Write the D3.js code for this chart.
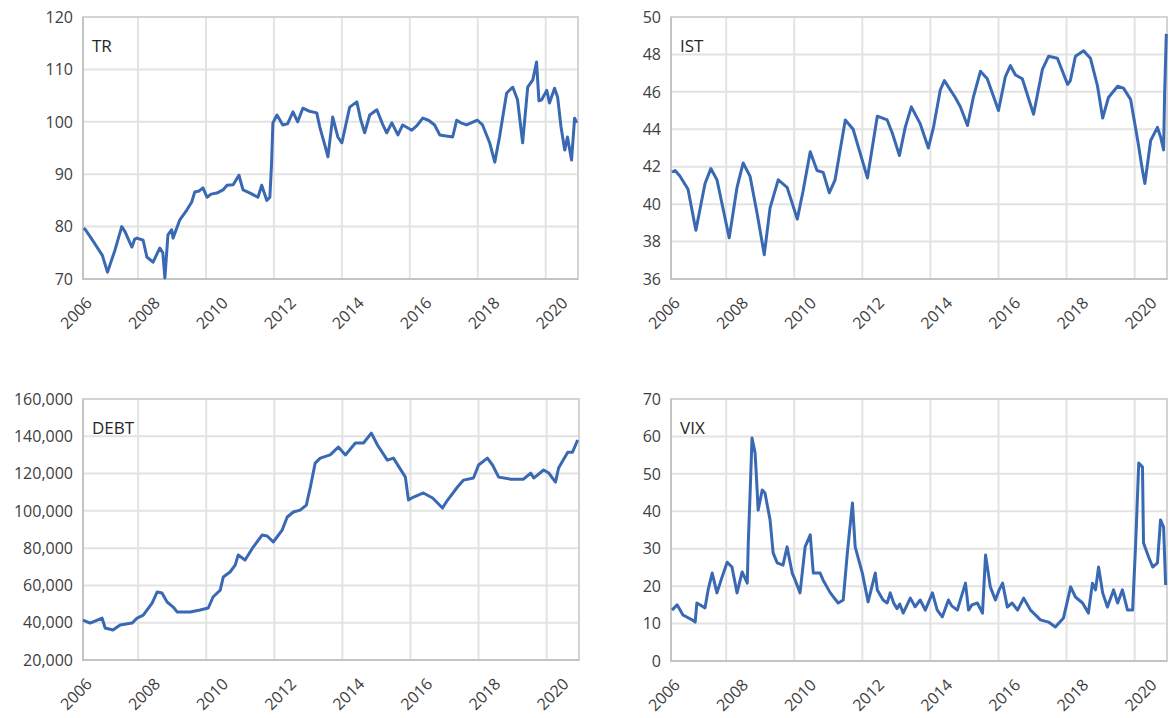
<!DOCTYPE html>
<html>
<head>
<meta charset="utf-8">
<script src="https://cdn.jsdelivr.net/npm/d3@7"></script>
<style>
  html, body { margin: 0; padding: 0; background: #ffffff; }
  svg { display: block; }
  text { font-family: "Open Sans", "Noto Sans", sans-serif; }
</style>
</head>
<body>
<svg id="chart" width="1172" height="718"></svg>
<script>
// Year ticks shared by all four panels
const yearTicks = [2006, 2008, 2010, 2012, 2014, 2016, 2018, 2020];

// TR series (decimal year, value)
const trDates = [2006.40, 2006.44, 2006.60, 2006.79, 2006.95, 2007.10, 2007.32, 2007.52, 2007.62, 2007.72,
  2007.82, 2007.90, 2007.97, 2008.15, 2008.26, 2008.44, 2008.64, 2008.73, 2008.79, 2008.88,
  2008.99, 2009.03, 2009.23, 2009.44, 2009.58, 2009.67, 2009.80, 2009.91, 2010.03, 2010.15,
  2010.32, 2010.50, 2010.62, 2010.80, 2010.97, 2011.09, 2011.30, 2011.53, 2011.64, 2011.79,
  2011.88, 2011.93, 2011.97, 2012.09, 2012.26, 2012.40, 2012.56, 2012.70, 2012.85, 2013.05,
  2013.26, 2013.35, 2013.50, 2013.59, 2013.73, 2013.88, 2014.00, 2014.23, 2014.44, 2014.55,
  2014.67, 2014.82, 2015.03, 2015.20, 2015.32, 2015.47, 2015.65, 2015.79, 2016.06, 2016.20,
  2016.38, 2016.55, 2016.73, 2016.88, 2017.26, 2017.38, 2017.50, 2017.67, 2017.99, 2018.14,
  2018.35, 2018.50, 2018.64, 2018.85, 2019.03, 2019.17, 2019.32, 2019.47, 2019.62, 2019.73,
  2019.80, 2019.88, 2020.03, 2020.11, 2020.26, 2020.35, 2020.45, 2020.56, 2020.64, 2020.76,
  2020.85, 2020.91];
const trValues = [79.7, 79.5, 78.0, 76.1, 74.5, 71.3, 75.5, 80.0, 79.0, 77.5,
  76.1, 77.6, 77.8, 77.4, 74.2, 73.2, 75.9, 75.0, 70.2, 78.4,
  79.4, 77.8, 81.3, 83.2, 84.7, 86.6, 86.8, 87.4, 85.6, 86.2,
  86.4, 87.0, 87.9, 88.0, 89.8, 87.0, 86.4, 85.6, 87.9, 85.0,
  85.6, 92.0, 99.8, 101.3, 99.4, 99.6, 101.9, 100.0, 102.6, 102.0,
  101.7, 99.0, 95.5, 93.3, 100.9, 97.1, 96.0, 102.8, 103.8, 100.5,
  97.9, 101.3, 102.3, 99.5, 97.9, 99.8, 97.5, 99.4, 98.4, 99.2,
  100.7, 100.3, 99.4, 97.5, 97.1, 100.3, 99.8, 99.4, 100.3, 99.4,
  96.0, 92.3, 97.1, 105.5, 106.6, 104.2, 96.0, 106.6, 108.0, 111.4,
  104.0, 104.2, 106.0, 103.6, 106.4, 104.7, 99.0, 94.6, 97.1, 92.7,
  100.7, 99.8];
const trTicks = [70, 80, 90, 100, 110, 120];

// IST series
const istDates = [2006.41, 2006.50, 2006.64, 2006.88, 2007.11, 2007.38, 2007.55, 2007.73, 2008.09, 2008.32,
  2008.50, 2008.70, 2008.91, 2009.12, 2009.29, 2009.53, 2009.79, 2010.09, 2010.26, 2010.47,
  2010.67, 2010.85, 2011.03, 2011.20, 2011.50, 2011.73, 2012.15, 2012.44, 2012.73, 2012.88,
  2013.09, 2013.26, 2013.44, 2013.70, 2013.94, 2014.09, 2014.29, 2014.41, 2014.73, 2014.88,
  2015.09, 2015.26, 2015.47, 2015.67, 2016.00, 2016.20, 2016.35, 2016.50, 2016.70, 2017.03,
  2017.29, 2017.47, 2017.73, 2018.03, 2018.11, 2018.26, 2018.50, 2018.70, 2018.91, 2019.06,
  2019.23, 2019.50, 2019.67, 2019.88, 2020.09, 2020.23, 2020.30, 2020.47, 2020.67, 2020.76,
  2020.85, 2020.88, 2020.93];
const istValues = [41.7, 41.8, 41.5, 40.8, 38.6, 41.1, 41.9, 41.3, 38.2, 40.9,
  42.2, 41.5, 39.5, 37.3, 39.8, 41.3, 40.9, 39.2, 40.7, 42.8,
  41.8, 41.7, 40.6, 41.3, 44.5, 44.0, 41.4, 44.7, 44.5, 43.8,
  42.6, 44.1, 45.2, 44.3, 43.0, 44.1, 46.1, 46.6, 45.7, 45.2,
  44.2, 45.7, 47.1, 46.7, 45.0, 46.8, 47.4, 46.9, 46.7, 44.8,
  47.2, 47.9, 47.8, 46.4, 46.6, 47.9, 48.2, 47.8, 46.3, 44.6,
  45.7, 46.3, 46.2, 45.6, 43.4, 41.8, 41.1, 43.4, 44.1, 43.6,
  42.9, 45.9, 49.1];
const istTicks = [36, 38, 40, 42, 44, 46, 48, 50];

// DEBT series
const debtDates = [2006.38, 2006.59, 2006.94, 2007.03, 2007.26, 2007.47, 2007.82, 2007.97, 2008.15, 2008.41,
  2008.56, 2008.70, 2008.85, 2009.03, 2009.15, 2009.53, 2009.82, 2010.06, 2010.20, 2010.41,
  2010.50, 2010.70, 2010.85, 2010.94, 2011.14, 2011.38, 2011.64, 2011.79, 2011.97, 2012.23,
  2012.38, 2012.56, 2012.76, 2012.94, 2013.06, 2013.20, 2013.35, 2013.64, 2013.88, 2014.09,
  2014.38, 2014.62, 2014.85, 2015.03, 2015.32, 2015.50, 2015.85, 2015.94, 2016.09, 2016.38,
  2016.65, 2016.94, 2017.09, 2017.38, 2017.56, 2017.85, 2018.00, 2018.26, 2018.41, 2018.59,
  2018.94, 2019.32, 2019.53, 2019.62, 2019.91, 2020.06, 2020.26, 2020.35, 2020.62, 2020.76,
  2020.91];
const debtValues = [41450, 39800, 42500, 37200, 36100, 38800, 39800, 42500, 44100, 50500,
  56500, 55900, 51100, 48400, 45700, 45700, 46800, 47900, 53800, 57500,
  64500, 67200, 70900, 76300, 73600, 80600, 87000, 86500, 83300, 89700,
  96700, 99400, 100400, 103100, 112800, 125600, 128300, 130000, 134200, 130000,
  136400, 136400, 141700, 135300, 127200, 128300, 118100, 105800, 107400, 109600,
  106900, 101500, 105800, 112800, 116500, 117600, 124600, 128300, 124600, 118100,
  117000, 117000, 120300, 117600, 121900, 120300, 115400, 123000, 131500, 131500,
  138000];
const debtTicks = [20000, 40000, 60000, 80000, 100000, 120000, 140000, 160000];

// VIX series
const vixDates = [2006.41, 2006.56, 2006.73, 2007.00, 2007.09, 2007.14, 2007.38, 2007.47, 2007.59, 2007.73,
  2007.88, 2008.03, 2008.17, 2008.32, 2008.47, 2008.62, 2008.65, 2008.70, 2008.76, 2008.85,
  2008.91, 2008.94, 2009.06, 2009.14, 2009.29, 2009.38, 2009.50, 2009.67, 2009.79, 2009.94,
  2010.03, 2010.17, 2010.32, 2010.47, 2010.56, 2010.76, 2010.85, 2011.06, 2011.29, 2011.44,
  2011.56, 2011.71, 2011.79, 2012.00, 2012.17, 2012.38, 2012.44, 2012.61, 2012.73, 2012.82,
  2012.92, 2013.02, 2013.10, 2013.20, 2013.41, 2013.55, 2013.70, 2013.85, 2014.06, 2014.20,
  2014.35, 2014.53, 2014.62, 2014.79, 2015.03, 2015.12, 2015.22, 2015.38, 2015.53, 2015.62,
  2015.76, 2015.91, 2016.02, 2016.12, 2016.26, 2016.40, 2016.56, 2016.74, 2016.94, 2017.10,
  2017.23, 2017.47, 2017.67, 2017.91, 2018.12, 2018.26, 2018.47, 2018.64, 2018.76, 2018.85,
  2018.94, 2019.06, 2019.20, 2019.38, 2019.50, 2019.64, 2019.79, 2019.94, 2020.03, 2020.12,
  2020.23, 2020.26, 2020.41, 2020.53, 2020.67, 2020.76, 2020.85, 2020.91];
const vixValues = [13.6, 15.0, 12.3, 11.0, 10.4, 15.5, 14.2, 19.0, 23.5, 18.2,
  22.4, 26.4, 25.1, 18.2, 23.8, 20.8, 31.5, 43.8, 59.6, 55.6,
  45.7, 40.3, 45.7, 44.9, 37.7, 28.9, 26.2, 25.6, 30.5, 23.5,
  21.6, 18.2, 30.5, 33.7, 23.5, 23.5, 21.6, 18.2, 15.5, 16.3,
  28.9, 42.2, 30.5, 23.5, 15.8, 23.5, 19.0, 16.3, 15.5, 18.2,
  15.5, 14.0, 15.2, 12.8, 16.8, 14.5, 16.3, 13.6, 18.2, 13.6,
  11.8, 16.3, 14.8, 13.6, 20.8, 13.6, 15.0, 15.5, 12.8, 28.3,
  19.8, 16.3, 19.0, 20.8, 14.4, 15.5, 13.6, 16.8, 13.6, 12.2,
  11.0, 10.4, 9.1, 11.5, 19.8, 17.1, 15.5, 12.8, 20.8, 19.0,
  25.1, 18.2, 14.4, 19.0, 15.5, 19.0, 13.6, 13.6, 31.5, 52.9,
  51.8, 31.5, 27.8, 25.1, 26.2, 37.7, 35.8, 20.3];
const vixTicks = [0, 10, 20, 30, 40, 50, 60, 70];

// Panel layout
const panels = [
  { title: "TR",   dates: trDates,   values: trValues,   ticks: trTicks,   fmt: d3.format("d"),  x0: 83,  y0: 17,  x1: 578,  y1: 279 },
  { title: "IST",  dates: istDates,  values: istValues,  ticks: istTicks,  fmt: d3.format("d"),  x0: 671, y0: 17,  x1: 1167, y1: 279 },
  { title: "DEBT", dates: debtDates, values: debtValues, ticks: debtTicks, fmt: d3.format(",d"), x0: 83,  y0: 399, x1: 579,  y1: 660 },
  { title: "VIX",  dates: vixDates,  values: vixValues,  ticks: vixTicks,  fmt: d3.format("d"),  x0: 671, y0: 399, x1: 1167, y1: 661 }
];

const svg = d3.select("#chart");
const lineColor = "#3a69b3";
const gridColor = "#e3e3e3";
const labelColor = "#404040";

panels.forEach(p => {
  const x = d3.scaleLinear().domain([2006.38, 2020.95]).range([p.x0, p.x1]);
  const y = d3.scaleLinear().domain([p.ticks[0], p.ticks[p.ticks.length - 1]]).range([p.y1, p.y0]);
  const g = svg.append("g");

  // horizontal gridlines
  g.append("g").selectAll("line").data(p.ticks.slice(1)).join("line")
    .attr("x1", p.x0).attr("x2", p.x1)
    .attr("y1", d => y(d)).attr("y2", d => y(d))
    .attr("stroke", gridColor).attr("stroke-width", 2);

  // vertical gridlines at year ticks inside the plot
  g.append("g").selectAll("line").data(yearTicks.filter(t => x(t) > p.x0 + 1)).join("line")
    .attr("x1", d => x(d)).attr("x2", d => x(d))
    .attr("y1", p.y0).attr("y2", p.y1)
    .attr("stroke", gridColor).attr("stroke-width", 2);

  // plot frame
  g.append("rect")
    .attr("x", p.x0).attr("y", p.y0)
    .attr("width", p.x1 - p.x0).attr("height", p.y1 - p.y0)
    .attr("fill", "none").attr("stroke", "#d4d4d4").attr("stroke-width", 2);
  g.append("path")
    .attr("d", `M${p.x0},${p.y0}V${p.y1}H${p.x1}`)
    .attr("fill", "none").attr("stroke", "#c4c4c4").attr("stroke-width", 2);

  // y tick labels
  g.append("g").selectAll("text").data(p.ticks).join("text")
    .attr("x", p.x0 - 10).attr("y", d => y(d))
    .attr("dy", "0.36em")
    .attr("text-anchor", "end")
    .attr("font-size", 16)
    .attr("fill", labelColor)
    .text(d => p.fmt(d));

  // x tick labels, rotated
  g.append("g").selectAll("text").data(yearTicks).join("text")
    .attr("transform", d => `translate(${x(d) + 23},${p.y1 + 25}) rotate(-45)`)
    .attr("text-anchor", "end")
    .attr("font-size", 16)
    .attr("fill", labelColor)
    .text(d => d);

  // series line
  const pts = p.dates.map((d, i) => [d, p.values[i]]);
  g.append("path")
    .datum(pts)
    .attr("fill", "none")
    .attr("stroke", lineColor)
    .attr("stroke-width", 3)
    .attr("stroke-linejoin", "round")
    .attr("d", d3.line().x(d => x(d[0])).y(d => y(d[1])));

  // panel title
  g.append("text")
    .attr("x", p.x0 + 9).attr("y", p.y0 + 35)
    .attr("font-size", 17)
    .attr("fill", "#262626")
    .text(p.title);
});
</script>
</body>
</html>
